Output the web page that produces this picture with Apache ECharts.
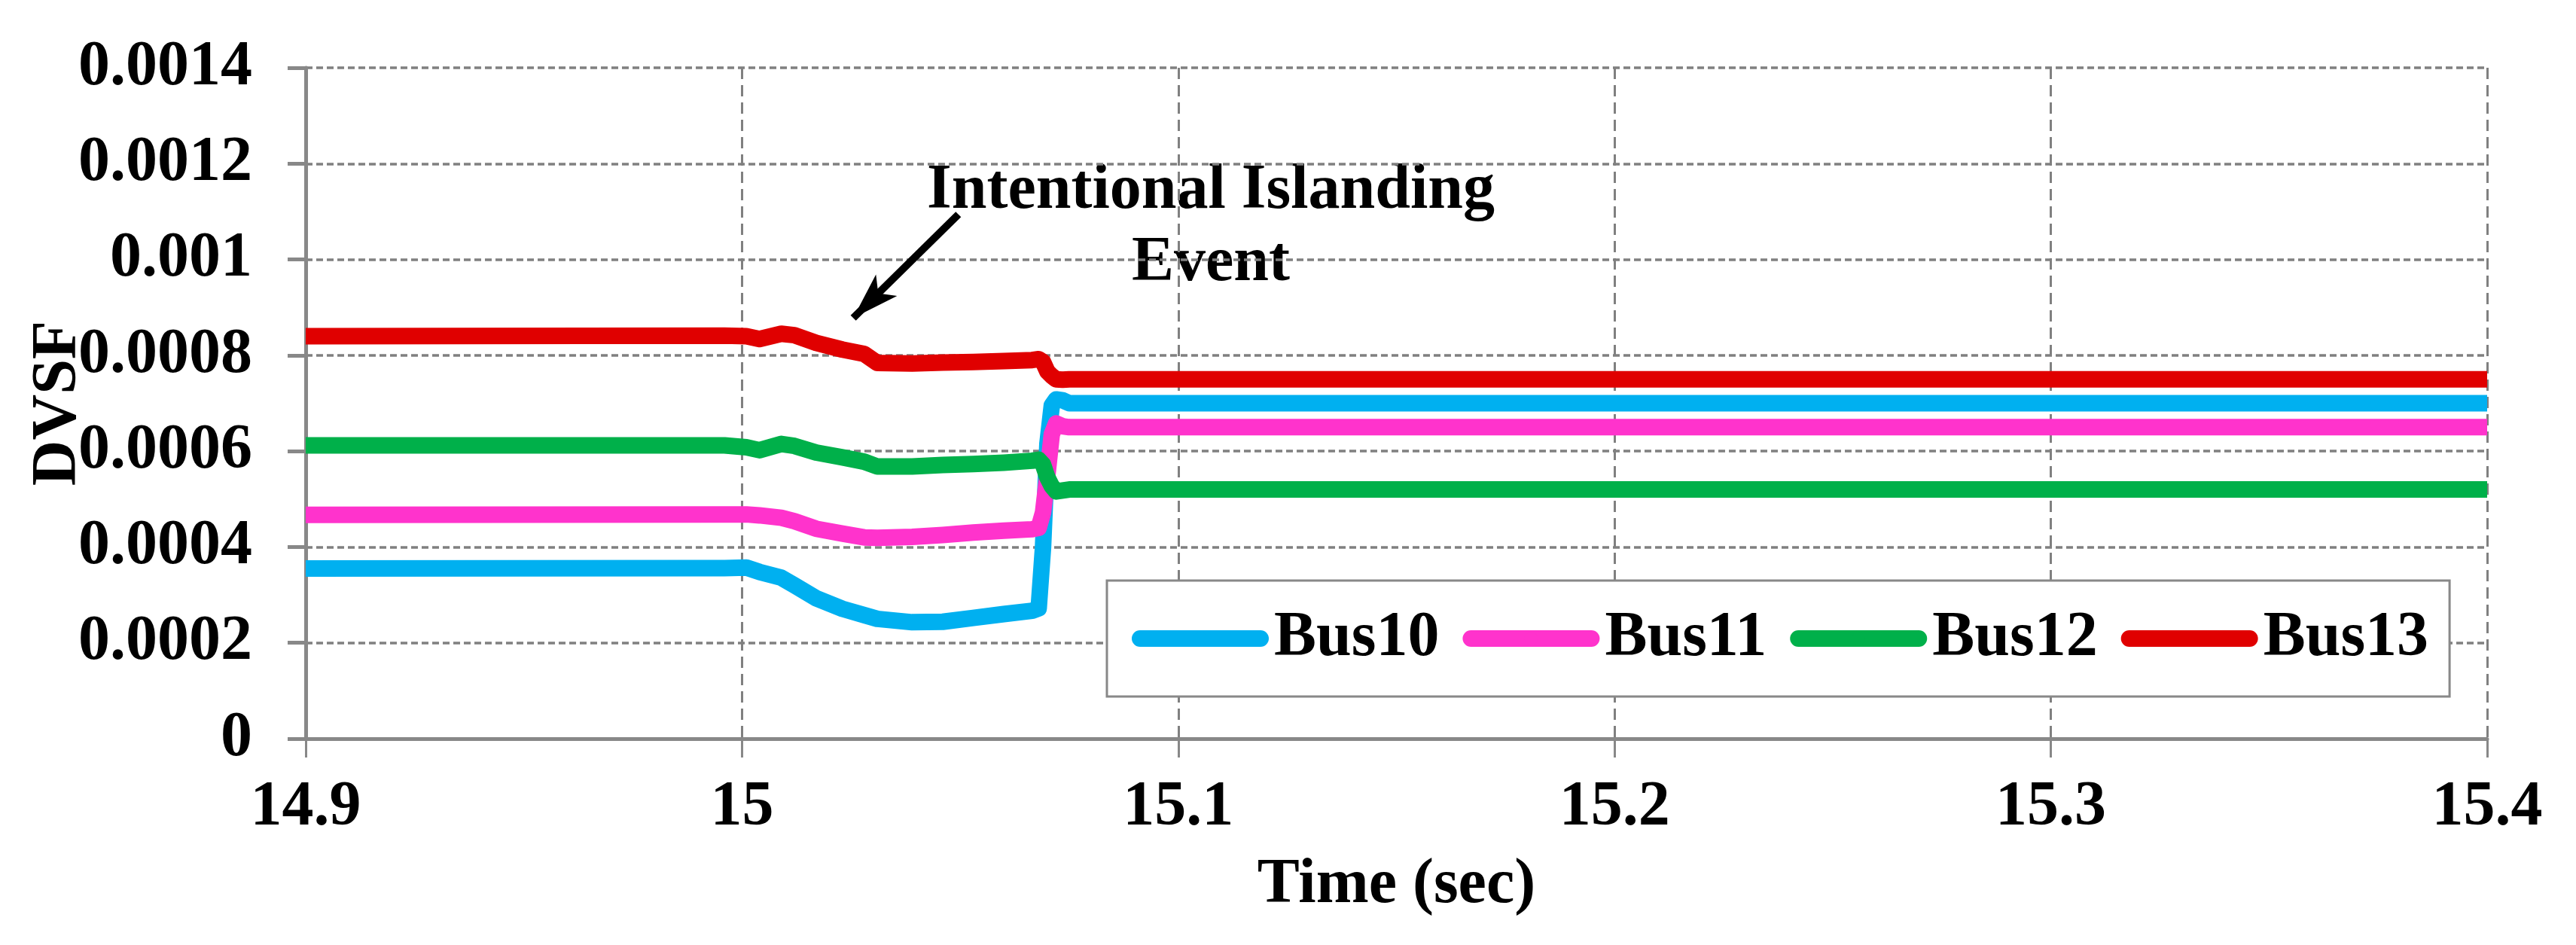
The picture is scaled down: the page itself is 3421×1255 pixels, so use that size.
<!DOCTYPE html>
<html>
<head>
<meta charset="utf-8">
<title>DVSF</title>
<script src="https://cdn.jsdelivr.net/npm/echarts@6/dist/echarts.min.js"></script>
<style>
  html, body { margin: 0; padding: 0; background: #fff; }
  #chart { width: 3421px; height: 1255px; }
</style>
</head>
<body>
<div id="chart"></div>
<script>
// time samples (sec), shared by all buses
const times = [14.9, 14.996, 15.001, 15.004, 15.009, 15.012, 15.017, 15.023, 15.028, 15.031,
  15.039, 15.046, 15.053, 15.060, 15.0665, 15.068, 15.069, 15.070, 15.071, 15.072, 15.0735, 15.075, 15.4]

const bus10 = [0.000355, 0.000356, 0.000357, 0.000348, 0.000336, 0.00032, 0.000293, 0.000271, 0.000258, 0.00025,
  0.000243, 0.000244, 0.000252, 0.00026, 0.000267, 0.000272, 0.0004, 0.000615, 0.000695, 0.000708, 0.000706, 0.0007, 0.0007]
const bus11 = [0.000467, 0.000468, 0.000468, 0.000466, 0.000461, 0.000454, 0.000438, 0.000428, 0.00042, 0.000419,
  0.000421, 0.000425, 0.00043, 0.000434, 0.000437, 0.00044, 0.000472, 0.00055, 0.000635, 0.000658, 0.000652, 0.00065, 0.00065]
const bus12 = [0.000612, 0.000612, 0.000608, 0.000602, 0.000615, 0.000611, 0.000597, 0.000587, 0.000578, 0.000568,
  0.000568, 0.000571, 0.000573, 0.000576, 0.00058, 0.000582, 0.000572, 0.000545, 0.000527, 0.000516, 0.000518, 0.00052, 0.00052]
const bus13 = [0.00084, 0.000841, 0.00084, 0.000834, 0.000845, 0.000842, 0.000826, 0.000812, 0.000803, 0.000784,
  0.000783, 0.000785, 0.000786, 0.000788, 0.00079, 0.000792, 0.000786, 0.000766, 0.000757, 0.00075, 0.000749, 0.00075, 0.00075]

const seriesNames = ['Bus10', 'Bus11', 'Bus12', 'Bus13']
const seriesColors = ['#00B0F0', '#FF33CC', '#00B04A', '#E00000']
const seriesValues = [bus10, bus11, bus12, bus13]

// annotation arrow: [time, value] of tail and tip
const arrowFrom = [15.0496, 0.001094]
const arrowTo = [15.0255, 0.000878]

const font = "'Liberation Serif', 'Times New Roman', serif"
const axisGray = '#888888'
const gridGray = '#808080'

const chart = echarts.init(document.getElementById('chart'))

const series = seriesNames.map((name, i) => {
  const s = {
    name: name,
    type: 'line',
    symbol: 'none',
    showSymbol: false,
    color: seriesColors[i],
    lineStyle: { width: 22, color: seriesColors[i], join: 'round' },
    data: times.map((t, k) => [t, seriesValues[i][k]])
  }
  if (i === 3) {
    s.markLine = {
      silent: true,
      animation: false,
      symbol: ['none', 'arrow'],
      lineStyle: { color: '#000', width: 10, type: 'solid' },
      label: { show: false },
      data: [[
        { coord: arrowFrom, symbol: 'none' },
        { coord: arrowTo, symbol: 'arrow', symbolSize: [30, 62] }
      ]]
    }
  }
  return s
})

chart.setOption({
  animation: false,
  backgroundColor: '#fff',
  grid: { left: 406, right: 118, top: 90, bottom: 274, containLabel: false },
  legend: {
    left: 1470,
    top: 771,
    orient: 'horizontal',
    padding: [35, 28, 35, 33],
    itemGap: 31,
    itemWidth: 160,
    itemHeight: 22,
    borderColor: axisGray,
    borderWidth: 3,
    backgroundColor: '#fff',
    lineStyle: { width: 22, cap: 'round' },
    textStyle: { fontFamily: font, fontWeight: 'bold', fontSize: 84, color: '#000', padding: [0, 0, 0, 13] },
    data: seriesNames
  },
  xAxis: {
    type: 'value',
    min: 14.9,
    max: 15.4,
    interval: 0.1,
    name: 'Time (sec)',
    nameLocation: 'middle',
    nameGap: 153,
    nameMoveOverlap: false,
    nameTextStyle: { fontFamily: font, fontWeight: 'bold', fontSize: 84, color: '#000' },
    axisLine: { show: true, onZero: false, lineStyle: { color: axisGray, width: 5 } },
    axisTick: { show: true, inside: false, length: 25, lineStyle: { color: axisGray, width: 3 } },
    axisLabel: {
      margin: 50,
      fontFamily: font, fontWeight: 'bold', fontSize: 84, color: '#000',
      formatter: v => String(parseFloat(v.toFixed(1)))
    },
    splitLine: { show: true, lineStyle: { color: gridGray, width: 3, type: [15, 8] } }
  },
  yAxis: {
    type: 'value',
    min: 0,
    max: 0.0014,
    interval: 0.0002,
    name: 'DVSF',
    nameLocation: 'middle',
    nameRotate: 90,
    nameGap: 286,
    nameMoveOverlap: false,
    nameTextStyle: { fontFamily: font, fontWeight: 'bold', fontSize: 84, color: '#000' },
    axisLine: { show: true, lineStyle: { color: axisGray, width: 5 } },
    axisTick: { show: true, inside: false, length: 24, lineStyle: { color: axisGray, width: 5 } },
    axisLabel: {
      margin: 71,
      fontFamily: font, fontWeight: 'bold', fontSize: 84, color: '#000',
      formatter: v => String(parseFloat(v.toFixed(4)))
    },
    splitLine: { show: true, lineStyle: { color: gridGray, width: 3.5, type: [9, 5] } }
  },
  graphic: [
    {
      type: 'text',
      x: 1608,
      y: 302,
      silent: true,
      style: {
        text: 'Intentional Islanding\nEvent',
        fontFamily: font,
        fontWeight: 'bold',
        fontSize: 84,
        lineHeight: 96,
        fill: '#000',
        align: 'center',
        verticalAlign: 'middle'
      }
    }
  ],
  series: series
})
</script>
</body>
</html>
